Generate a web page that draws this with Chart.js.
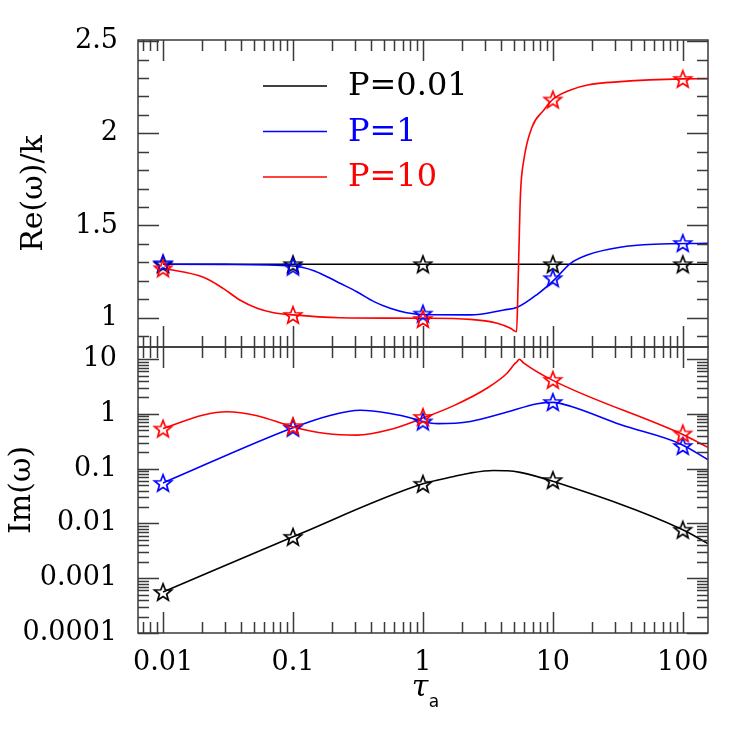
<!DOCTYPE html>
<html>
<head>
<meta charset="utf-8">
<script src="https://cdn.jsdelivr.net/npm/chart.js@4.4.1/dist/chart.umd.min.js"></script>
<style>
  html, body { margin: 0; background: #fff; }
  #wrap { width: 747px; height: 747px; }
</style>
</head>
<body>
<div id="wrap"><canvas id="chart" width="747" height="747"></canvas></div>
<script>
// tick labels
const tauTicks = [0.01, 0.1, 1, 10, 100];
const reTicks = [1, 1.5, 2, 2.5];
const imTicks = [0.0001, 0.001, 0.01, 0.1, 1, 10];
const legendLabels = ['P=0.01', 'P=1', 'P=10'];

// star markers (same tau for every series)
const tauMarks = [0.01, 0.1, 1, 10, 100];
const reMarksP001 = [1.29, 1.29, 1.29, 1.29, 1.29];
const reMarksP1 = [1.295, 1.277, 1.022, 1.214, 1.405];
const reMarksP10 = [1.268, 1.015, 0.993, 2.183, 2.295];
const imMarksP001 = [0.00056, 0.0057, 0.053, 0.062, 0.0077];
const imMarksP1 = [0.055, 0.56, 0.73, 1.65, 0.26];
const imMarksP10 = [0.54, 0.6, 0.88, 4.2, 0.44];

// Re(omega)/k curves
const reTauP001 = [0.01, 156];
const reP001 = [1.29, 1.29];
const reTauP1 = [0.01, 0.03, 0.1, 0.145, 0.183, 0.23, 0.31, 0.42, 0.56, 0.75, 1, 2.32, 4.2, 5.32, 7.6, 10.2, 13.7, 18.4, 33, 60, 156];
const reP1 = [1.29, 1.289, 1.28, 1.255, 1.222, 1.187, 1.141, 1.087, 1.051, 1.027, 1.017, 1.015, 1.042, 1.056, 1.127, 1.204, 1.295, 1.34, 1.382, 1.398, 1.403];
const reTauP10 = [0.01, 0.0205, 0.029, 0.039, 0.053, 0.071, 0.1, 0.23, 1, 2.32, 3.73, 4.72, 5.26, 5.38, 5.54, 5.64, 5.98, 6.94, 8.53, 10, 13.7, 18.5, 33, 100, 156];
const reP10 = [1.268, 1.219, 1.159, 1.096, 1.051, 1.027, 1.015, 1.0, 0.997, 0.991, 0.97, 0.943, 0.924, 1.13, 1.493, 1.675, 1.855, 2.036, 2.126, 2.184, 2.235, 2.262, 2.28, 2.295, 2.296];

// Im(omega) curves
const imTauP001 = [0.01, 0.1, 1, 1.73, 2.32, 3.5, 4.46, 5.6, 10, 100, 156];
const imP001 = [0.00056, 0.0057, 0.053, 0.072, 0.0836, 0.093, 0.092, 0.0857, 0.0588, 0.0077, 0.0043];
const imTauP1 = [0.01, 0.1, 0.19, 0.33, 0.56, 0.85, 1, 1.3, 2.32, 4.2, 7.6, 10, 13.7, 33, 96, 156];
const imP1 = [0.055, 0.56, 0.93, 1.17, 1.02, 0.82, 0.73, 0.665, 0.73, 1.04, 1.54, 1.63, 1.38, 0.64, 0.283, 0.147];
const imTauP10 = [0.01, 0.0205, 0.031, 0.053, 0.1, 0.18, 0.31, 0.56, 1, 1.73, 3.13, 4.46, 5.01, 5.32, 5.51, 5.98, 10, 100, 156];
const imP10 = [0.54, 0.96, 1.1, 0.93, 0.58, 0.44, 0.41, 0.52, 0.84, 1.42, 2.98, 5.6, 7.9, 9.1, 10.0, 8.5, 4.1, 0.42, 0.245];

const colors = ['#000000', '#0000ff', '#ff0000'];
const SERIF = '"DejaVu Serif", serif';

const pts = (xs, ys) => xs.map((x, i) => ({x: x, y: ys[i]}));

function starImg(color) {
    const c = document.createElement('canvas');
    c.width = 24; c.height = 24;
    const g = c.getContext('2d');
    g.strokeStyle = color;
    g.lineWidth = 1.7;
    g.beginPath();
    for (let i = 0; i < 10; i++) {
        const r = i % 2 ? 3.8 : 9;
        const a = -Math.PI / 2 + i * Math.PI / 5;
        const px = 12 + r * Math.cos(a), py = 12.8 + r * Math.sin(a);
        if (i) g.lineTo(px, py); else g.moveTo(px, py);
    }
    g.closePath();
    g.stroke();
    return c;
}

function curve(xs, ys, axis, ci, order) {
    return {
        data: pts(xs, ys), yAxisID: axis, borderColor: colors[ci], borderWidth: 1.6,
        pointRadius: 0, cubicInterpolationMode: 'monotone', fill: false, order: order
    };
}
function marks(ys, axis, ci, order) {
    return {
        data: pts(tauMarks, ys), yAxisID: axis, showLine: false, borderColor: colors[ci],
        pointStyle: starImg(colors[ci]), pointRadius: 10, order: order
    };
}

function logTicks(min, max) {
    const out = [];
    for (let e = Math.floor(Math.log10(min)); e <= Math.ceil(Math.log10(max)); e++) {
        for (let m = 1; m <= 9; m++) {
            const v = m * Math.pow(10, e);
            if (v >= min * 0.999 && v <= max * 1.001) out.push({v: v, major: m === 1});
        }
    }
    return out;
}

// frame with inward ticks on every side of both panels, plus legend and x title
const framePlugin = {
    id: 'frame',
    afterDraw(chart) {
        const ctx = chart.ctx;
        const xs = chart.scales.x, yr = chart.scales.yRe, yi = chart.scales.yIm;
        const L = xs.left, R = xs.right;
        ctx.save();
        ctx.strokeStyle = '#3a3a3a';
        ctx.lineWidth = 1.5;
        const xt = logTicks(xs.min, xs.max);
        [yr, yi].forEach(ys => {
            ctx.strokeRect(L, ys.top, R - L, ys.bottom - ys.top);
            ctx.beginPath();
            xt.forEach(t => {
                const p = Math.round(xs.getPixelForValue(t.v)) + 0.5;
                const len = t.major ? 21 : 11;
                ctx.moveTo(p, ys.top); ctx.lineTo(p, ys.top + len);
                ctx.moveTo(p, ys.bottom); ctx.lineTo(p, ys.bottom - len);
            });
            const yt = ys === yr ? [] : logTicks(yi.min, yi.max);
            if (ys === yr) {
                for (let k = Math.ceil(yr.min * 10); k <= Math.floor(yr.max * 10 + 0.001); k++) {
                    yt.push({v: k / 10, major: k % 5 === 0});
                }
            }
            yt.forEach(t => {
                const p = Math.round(ys.getPixelForValue(t.v)) + 0.5;
                const len = t.major ? 21 : 11;
                ctx.moveTo(L, p); ctx.lineTo(L + len, p);
                ctx.moveTo(R, p); ctx.lineTo(R - len, p);
            });
            ctx.stroke();
        });

        // legend
        ctx.font = '32px ' + SERIF;
        ctx.textBaseline = 'middle';
        ctx.textAlign = 'left';
        legendLabels.forEach((t, i) => {
            const y = 86 + i * 45.5;
            ctx.strokeStyle = colors[i];
            ctx.lineWidth = 1.6;
            ctx.beginPath();
            ctx.moveTo(263, y); ctx.lineTo(327, y);
            ctx.stroke();
            ctx.fillStyle = colors[i];
            ctx.fillText(t, 348, y + 1);
        });

        // x axis title tau_a
        ctx.fillStyle = '#000';
        ctx.font = 'italic 30px ' + SERIF;
        ctx.textAlign = 'center';
        ctx.fillText('τ', 420, 688);
        ctx.font = '17px "DejaVu Sans", sans-serif';
        ctx.fillText('a', 434, 703);
        ctx.restore();
    }
};

const tickFont = {family: SERIF, size: 27};

new Chart(document.getElementById('chart'), {
    type: 'line',
    data: {
        datasets: [
            curve(reTauP10, reP10, 'yRe', 2, 3),
            curve(reTauP1, reP1, 'yRe', 1, 4),
            curve(reTauP001, reP001, 'yRe', 0, 5),
            curve(imTauP10, imP10, 'yIm', 2, 3),
            curve(imTauP1, imP1, 'yIm', 1, 4),
            curve(imTauP001, imP001, 'yIm', 0, 5),
            marks(reMarksP10, 'yRe', 2, 0),
            marks(reMarksP1, 'yRe', 1, 1),
            marks(reMarksP001, 'yRe', 0, 2),
            marks(imMarksP10, 'yIm', 2, 0),
            marks(imMarksP1, 'yIm', 1, 1),
            marks(imMarksP001, 'yIm', 0, 2)
        ]
    },
    options: {
        responsive: false,
        animation: false,
        events: [],
        layout: {padding: {top: 40, right: 39, left: 0, bottom: 0}},
        plugins: {legend: {display: false}, tooltip: {enabled: false}},
        scales: {
            x: {
                type: 'logarithmic', position: 'bottom', min: 0.00642, max: 156.4,
                grid: {display: false, drawTicks: false}, border: {display: false},
                afterBuildTicks: s => { s.ticks = tauTicks.map(v => ({value: v})); },
                afterFit: s => { s.height = 114; },
                ticks: {font: tickFont, color: '#000', padding: 14, maxRotation: 0, autoSkip: false,
                        callback: v => String(v)}
            },
            yRe: {
                type: 'linear', position: 'left', stack: 'panels', stackWeight: 307, weight: 2,
                min: 0.841, max: 2.506,
                grid: {display: false, drawTicks: false}, border: {display: false},
                afterBuildTicks: s => { s.ticks = reTicks.map(v => ({value: v})); },
                afterFit: s => { s.width = 138; },
                ticks: {font: tickFont, color: '#000', padding: 20, autoSkip: false, callback: v => String(v)},
                title: {display: true, text: 'Re(ω)/k', color: '#000', font: {family: SERIF, size: 30},
                        padding: {top: 16, bottom: 0}}
            },
            yIm: {
                type: 'logarithmic', position: 'left', stack: 'panels', stackWeight: 286, weight: 1,
                min: 0.0001, max: 16.7,
                grid: {display: false, drawTicks: false}, border: {display: false},
                afterBuildTicks: s => { s.ticks = imTicks.map(v => ({value: v})); },
                afterFit: s => { s.width = 138; },
                ticks: {font: tickFont, color: '#000', padding: 21, autoSkip: false, callback: v => String(v)},
                title: {display: true, text: 'Im(ω)', color: '#000', font: {family: SERIF, size: 30},
                        padding: {top: 4, bottom: 0}}
            }
        }
    },
    plugins: [framePlugin]
});
</script>
</body>
</html>
